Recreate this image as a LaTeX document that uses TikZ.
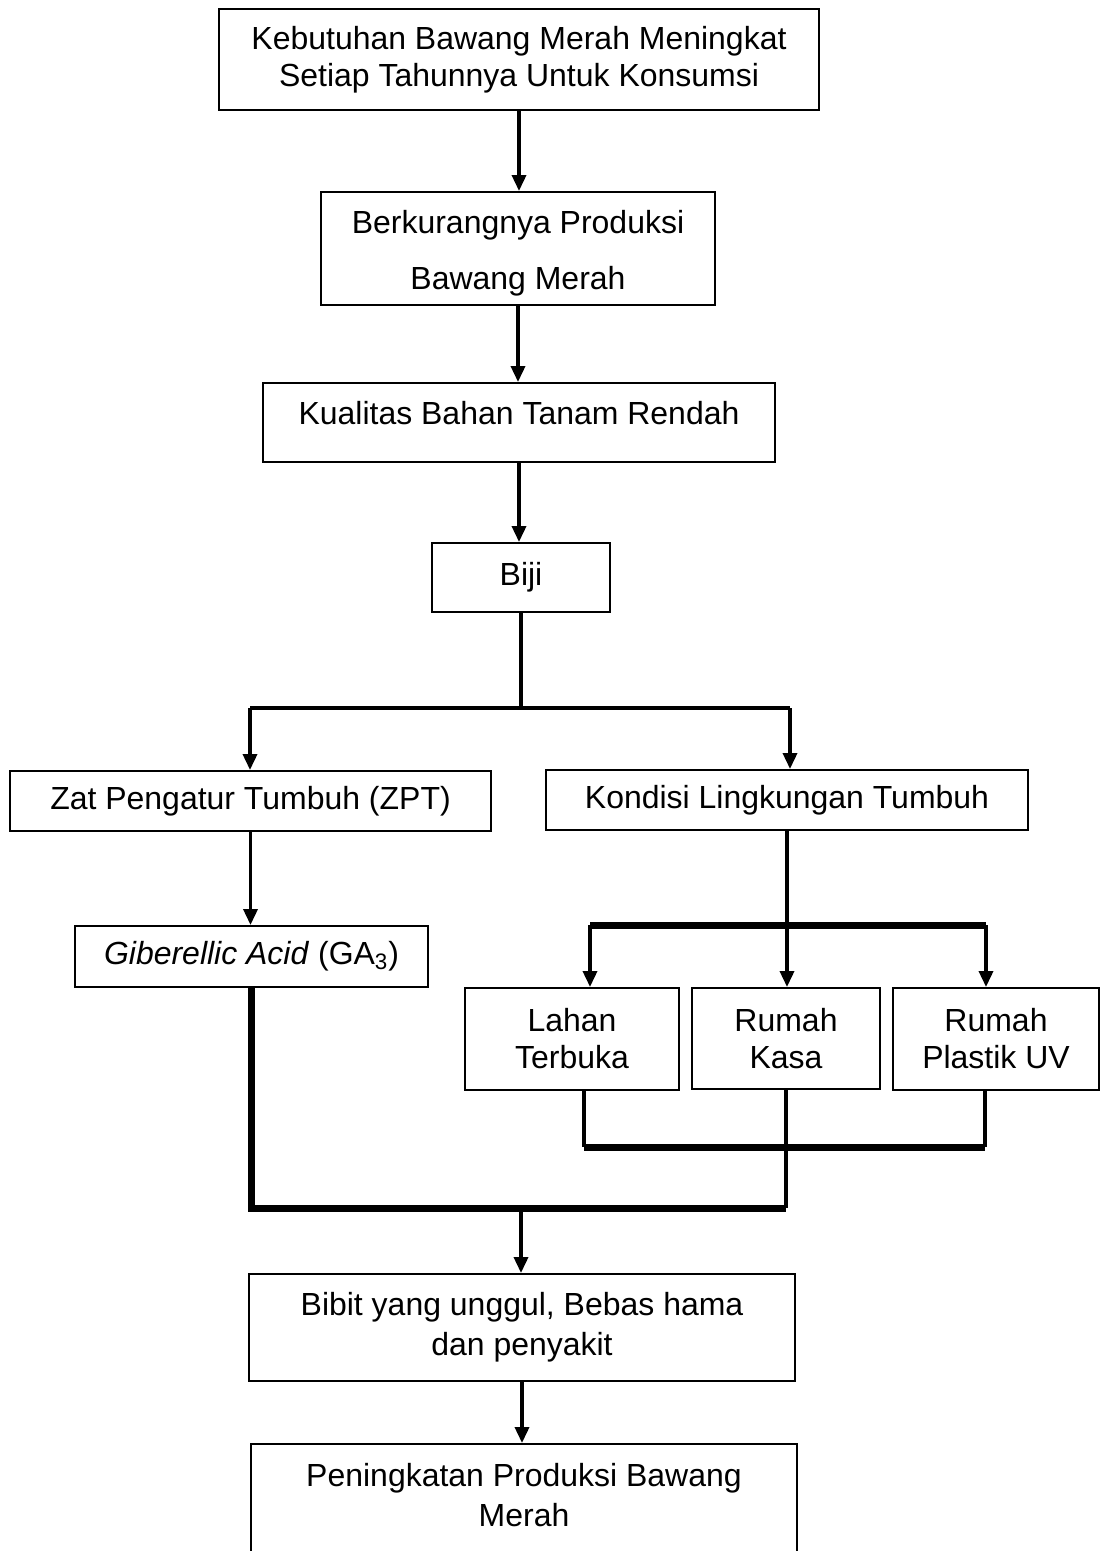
\documentclass[tikz,border=0pt]{standalone}
\usepackage{fontspec}
\setmainfont{Liberation Sans}
\usetikzlibrary{arrows.meta}
\tikzset{
  box/.style={draw, line width=0.04cm, rectangle, align=center, inner sep=0pt,
    font=\fontsize{18.2}{21}\selectfont},
  arr/.style={line width=0.07cm, -{Triangle[length=0.32cm,width=0.28cm]}},
  link/.style={line width=0.07cm},
  heavy/.style={line width=0.14cm},
}
\begin{document}
\begin{tikzpicture}[x=0.02cm, y=-0.02cm]
\useasboundingbox (0,0) rectangle (1101,1551);
\clip (0,0) rectangle (1101,1551);
% Main column
\node[box, minimum width=12cm, minimum height=2.02cm] (butuh) at (519,59.5) {Kebutuhan Bawang Merah Meningkat\\Setiap Tahunnya Untuk Konsumsi};
\node[box, minimum width=7.88cm, minimum height=2.26cm] (kurang) at (518,248.5) {\mbox{}\\[-2pt]Berkurangnya Produksi\\[0.38cm]Bawang Merah};
\node[box, minimum width=10.24cm, minimum height=1.58cm, text depth=0.38cm] (kualitas) at (519,422.5) {Kualitas Bahan Tanam Rendah};
\node[box, minimum width=3.56cm, minimum height=1.38cm] (biji) at (521,577.5) {Biji};
% Left branch
\node[box, minimum width=9.62cm, minimum height=1.2cm] (zpt) at (250.5,801) {Zat Pengatur Tumbuh (ZPT)};
\node[box, minimum width=7.06cm, minimum height=1.22cm] (ga) at (251.5,956.5) {\textit{Giberellic Acid} (GA\textsubscript{3})};
% Right branch
\node[box, minimum width=9.64cm, minimum height=1.2cm] (kondisi) at (787,800) {Kondisi Lingkungan Tumbuh};
\node[box, minimum width=4.28cm, minimum height=2.04cm] (lahan) at (572,1039) {Lahan\\Terbuka};
\node[box, minimum width=3.76cm, minimum height=2.02cm] (kasa) at (786,1038.5) {Rumah\\Kasa};
\node[box, minimum width=4.12cm, minimum height=2.04cm] (plastik) at (996,1039) {Rumah\\Plastik UV};
% Result
\node[box, minimum width=10.92cm, minimum height=2.14cm] (bibit) at (522,1327.5) {Bibit yang unggul, Bebas hama\\[0.06cm]dan penyakit};
\node[box, minimum width=10.92cm, minimum height=2.32cm] (hasil) at (524,1502) {Peningkatan Produksi Bawang\\[0.06cm]Merah\\[-13pt]\mbox{}};
% Arrows down the main column
\draw[arr] (butuh.south) -- (butuh.south |- kurang.north);
\draw[arr] (kurang.south) -- (kurang.south |- kualitas.north);
\draw[arr] (kualitas.south) -- (kualitas.south |- biji.north);
% Split below Biji
\coordinate (split) at (520,708);
\coordinate (splitL) at (250,708);
\coordinate (splitR) at (790,708);
\draw[link] (biji.south) -- (biji.south |- split);
\draw[line width=0.08cm] (splitL) -- (splitR);
\draw[arr] (splitL) -- (splitL |- zpt.north);
\draw[arr] (splitR) -- (splitR |- kondisi.north);
\draw[arr] (zpt.south) -- (zpt.south |- ga.north);
% Growing places
\coordinate (env) at (787,925);
\coordinate (envL) at (590,925);
\coordinate (envR) at (986,925);
\draw[link] (kondisi.south) -- (env);
\draw[heavy] (envL) -- (envR);
\draw[arr] (envL) -- (envL |- lahan.north);
\draw[arr] (env) -- (env |- kasa.north);
\draw[arr] (envR) -- (envR |- plastik.north);
% Joining again
\coordinate (joinL) at (584,1147);
\coordinate (joinR) at (985,1147);
\coordinate (merge) at (521,1208);
\draw[link] (joinL |- lahan.south) -- (joinL);
\draw[link] (joinR |- plastik.south) -- (joinR);
\draw[heavy] (joinL) -- (joinR);
\draw[link] (kasa.south) -- (kasa.south |- merge);
\draw[heavy] (ga.south) -- (ga.south |- merge) -- (kasa.south |- merge);
\draw[arr] (merge) -- (merge |- bibit.north);
\draw[arr] (bibit.south) -- (bibit.south |- hasil.north);
\end{tikzpicture}
\end{document}
